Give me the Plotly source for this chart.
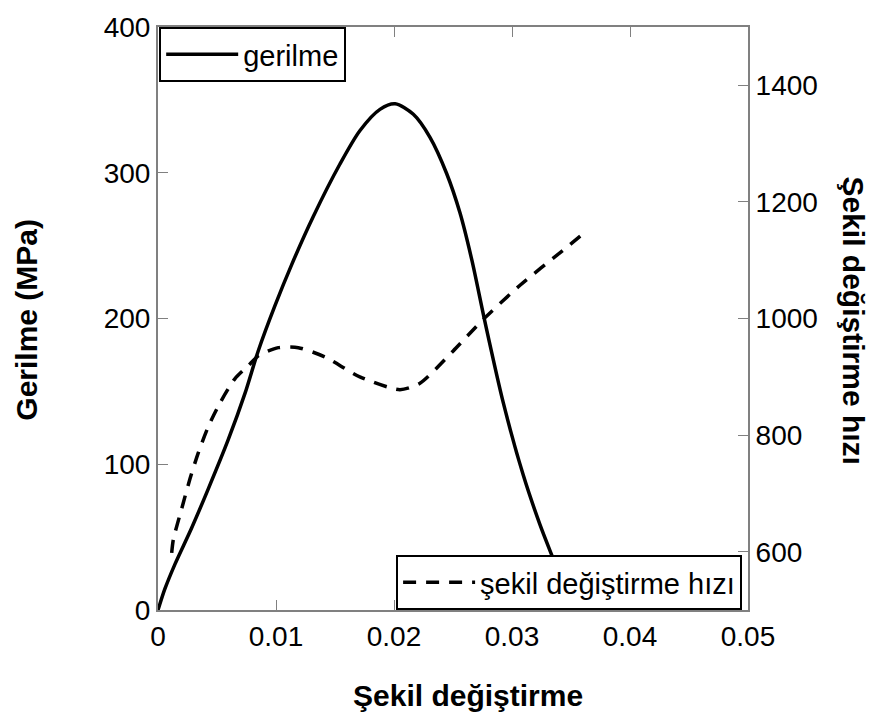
import plotly.graph_objects as go

# Gerilme (stress) curve - left axis
strain_s = [0.0, 0.00059, 0.00144, 0.00285, 0.00427, 0.00596, 0.00737, 0.0085, 0.00992,
            0.01133, 0.01316, 0.01542, 0.01712, 0.01881, 0.0201, 0.02164, 0.02305, 0.02446,
            0.02559, 0.0266, 0.0277, 0.02927, 0.03096, 0.03237, 0.0335, 0.0352]
stress = [0, 14.6, 31.5, 56.3, 83.3, 117, 148.6, 177.9, 209,
          237, 270, 306, 329, 343.5, 347.3, 340.1, 324.3, 299.5,
          272.5, 240, 198, 141.9, 92.4, 58.6, 35, 0]

# Şekil değiştirme hızı (strain rate) curve - right axis
strain_r = [0.00116, 0.0013, 0.00201, 0.00271, 0.00342, 0.00427, 0.00525, 0.00653, 0.00765,
            0.0085, 0.0102, 0.01189, 0.01415, 0.0171, 0.0205, 0.0222, 0.025, 0.02754,
            0.03068, 0.03432, 0.036]
rate = [598, 621, 674, 725, 770, 815, 855, 897, 919,
        936, 950, 950, 934, 900, 878, 889, 944, 998,
        1057, 1117, 1145]

x_ticks = [0, 0.01, 0.02, 0.03, 0.04, 0.05]
x_ticklabels = ["0", "0.01", "0.02", "0.03", "0.04", "0.05"]
y_ticks = [0, 100, 200, 300, 400]
y2_ticks = [600, 800, 1000, 1200, 1400]

FONT = "Liberation Sans, Arial, sans-serif"
AX = "#808080"

fig = go.Figure()
fig.add_trace(go.Scatter(x=strain_s, y=stress, mode="lines", name="gerilme",
                         line=dict(color="black", width=3.5, shape="spline", smoothing=0.8),
                         legend="legend"))
fig.add_trace(go.Scatter(x=strain_r, y=rate, mode="lines", name="şekil değiştirme hızı",
                         line=dict(color="black", width=3.5, dash="13px,10px", shape="spline", smoothing=0.7),
                         yaxis="y2", legend="legend2"))

fig.update_layout(
    width=876, height=720,
    margin=dict(l=158, r=128, t=18, b=110),
    paper_bgcolor="white", plot_bgcolor="white",
    showlegend=True,
    font=dict(family=FONT, size=28, color="black"),
    xaxis=dict(range=[0, 0.05], tickvals=x_ticks, ticktext=x_ticklabels,
               showgrid=False, zeroline=False, showline=True, linecolor=AX, linewidth=2,
               ticks="inside", ticklen=10, tickcolor=AX, mirror="ticks",
               tickfont=dict(size=28)),
    yaxis=dict(range=[0, 400], tickvals=y_ticks, showgrid=False, zeroline=False,
               showline=True, linecolor=AX, linewidth=2,
               ticks="inside", ticklen=10, tickcolor=AX, tickfont=dict(size=28)),
    yaxis2=dict(range=[500, 1500], tickvals=y2_ticks, overlaying="y", side="right",
                showgrid=False, zeroline=False, showline=True, linecolor=AX, linewidth=2,
                ticks="inside", ticklen=10, tickcolor=AX, tickfont=dict(size=28)),
    legend=dict(x=0.002, y=1.0, xanchor="left", yanchor="top",
                bgcolor="white", bordercolor="black", borderwidth=2,
                itemwidth=72, font=dict(size=29)),
    legend2=dict(x=0.99, y=0.0, xanchor="right", yanchor="bottom",
                 bgcolor="white", bordercolor="black", borderwidth=2,
                 itemwidth=72, font=dict(size=29)),
    annotations=[
        dict(text="<b>Şekil değiştirme</b>", xref="paper", yref="paper", x=0.525, y=-0.147,
             xanchor="center", yanchor="middle", showarrow=False, font=dict(size=30)),
        dict(text="<b>Gerilme (MPa)</b>", xref="paper", yref="paper", x=-0.222, y=0.498,
             xanchor="center", yanchor="middle", textangle=-90, showarrow=False, font=dict(size=30)),
        dict(text="<b>Şekil değiştirme hızı</b>", xref="paper", yref="paper", x=1.178, y=0.747,
             xanchor="center", yanchor="top", textangle=90, showarrow=False, font=dict(size=30)),
    ],
)

fig.write_html("out.html")
